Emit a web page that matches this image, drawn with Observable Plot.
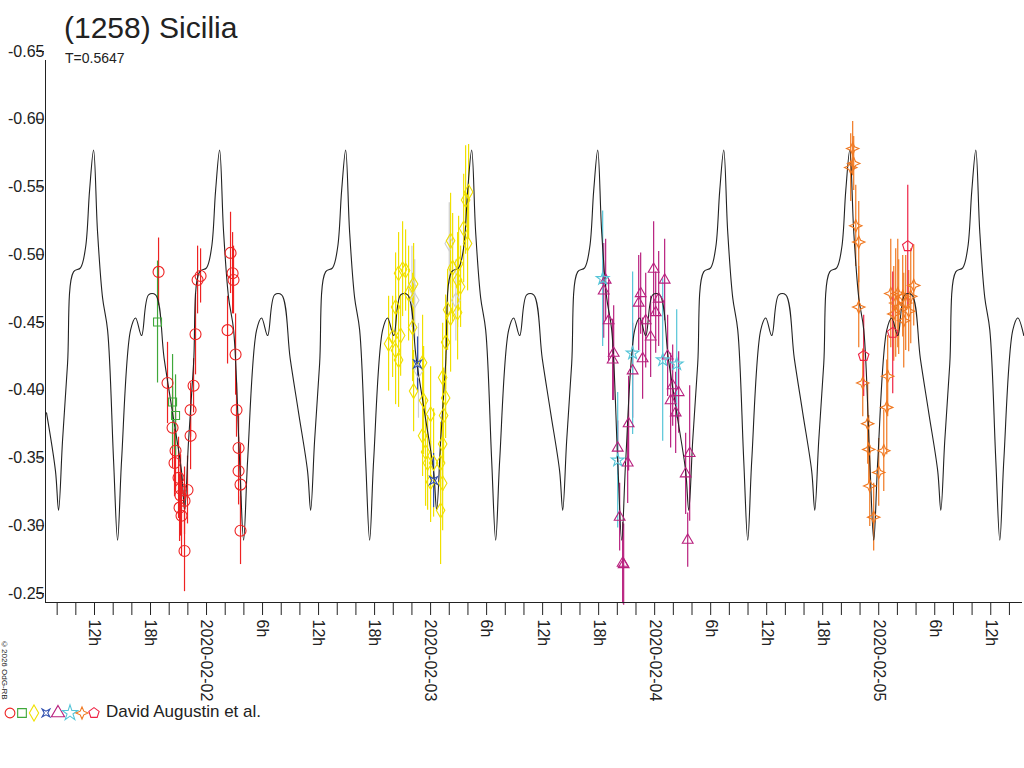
<!DOCTYPE html>
<html>
<head>
<meta charset="utf-8">
<script src="https://cdn.jsdelivr.net/npm/d3@7"></script>
<script src="https://cdn.jsdelivr.net/npm/@observablehq/plot@0.6"></script>
<style>
  body { margin: 0; background: #fff; font-family: "Liberation Sans", Arial, sans-serif; }
  #wrap { position: relative; width: 1024px; height: 768px; overflow: hidden; }
  #title { position: absolute; left: 64px; top: 11px; font-size: 30px; color: #222; }
  #sub { position: absolute; left: 65px; top: 50px; font-size: 14px; color: #222; }
  #copy { position: absolute; left: 0px; top: 640px; font-size: 8px; color: #222;
          writing-mode: vertical-rl; }
  #legend { position: absolute; left: 3px; top: 702px; display: flex; align-items: center; font-size: 17px; color: #222; }
</style>
</head>
<body>
<div id="wrap">
  <div id="chart"></div>
  <div id="title">(1258) Sicilia</div>
  <div id="sub">T=0.5647</div>
  <div id="copy">©2026 OdG-RB</div>
  <div id="legend"></div>
</div>
<script>
// hours since 2020-02-01 00:00 UT, reduced magnitude (brighter up)
// one cycle of the model lightcurve (hours into cycle, mag)
const modelStart = 6.86;
const modelPeriod = 13.5;
const modelPhase = [0, 0.96, 1.29, 1.71, 2.25, 2.89, 3.64, 4.18, 4.61, 5.04, 5.46, 6.0, 6.54, 7.18, 7.61, 8.04, 9.0, 9.54, 10.18, 10.93, 11.68, 12.6];
const modelMag   = [-0.39, -0.347, -0.318, -0.369, -0.426, -0.494, -0.497, -0.512, -0.554, -0.584, -0.524, -0.475, -0.451, -0.355, -0.296, -0.355, -0.451, -0.460, -0.447, -0.477, -0.477, -0.43];

const redT = [18.86, 19.82, 20.36, 20.68, 20.57, 21.0, 21.21, 21.21, 21.11, 21.32, 21.64, 21.64, 21.96, 22.29, 22.29, 22.61, 22.82, 23.04, 23.36, 26.25, 26.57, 26.79, 26.89, 27.11, 27.21, 27.43, 27.43, 27.64, 27.64];
const redM = [-0.494, -0.412, -0.379, -0.362, -0.353, -0.342, -0.334, -0.329, -0.320, -0.314, -0.288, -0.325, -0.333, -0.392, -0.373, -0.410, -0.448, -0.488, -0.491, -0.451, -0.508, -0.493, -0.488, -0.433, -0.392, -0.364, -0.347, -0.337, -0.303];
const redE = [0.025, 0.03, 0.03, 0.03, 0.025, 0.03, 0.025, 0.03, 0.025, 0.03, 0.03, 0.025, 0.025, 0.02, 0.025, 0.02, 0.03, 0.025, 0.02, 0.025, 0.03, 0.03, 0.025, 0.03, 0.02, 0.025, 0.025, 0.03, 0.025];

const greenT = [18.75, 20.36, 20.68];
const greenM = [-0.457, -0.398, -0.388];
const greenE = [0.045, 0.035, 0.03];

const yellowT = [43.5, 43.93, 44.25, 44.57, 44.57, 45.0, 45.32, 44.25, 44.79, 45.64, 46.18, 46.07, 47.14, 46.18, 47.25, 48.0, 47.14, 47.46, 47.68, 48.0, 48.32, 49.29, 49.07, 49.39, 49.61, 49.29, 49.61, 49.82, 50.14, 50.89, 50.14, 50.36, 51.0, 51.21, 50.89, 51.54, 51.96, 51.75, 52.07, 49.07, 49.29];
const yellowM = [-0.441, -0.446, -0.436, -0.429, -0.493, -0.496, -0.495, -0.468, -0.447, -0.478, -0.485, -0.453, -0.427, -0.406, -0.399, -0.389, -0.373, -0.361, -0.353, -0.339, -0.353, -0.367, -0.353, -0.388, -0.401, -0.416, -0.442, -0.466, -0.460, -0.464, -0.517, -0.497, -0.500, -0.483, -0.488, -0.526, -0.515, -0.547, -0.553, -0.318, -0.338];
const yellowE = [0.035, 0.03, 0.04, 0.035, 0.03, 0.035, 0.03, 0.04, 0.03, 0.035, 0.03, 0.04, 0.035, 0.03, 0.04, 0.035, 0.03, 0.04, 0.035, 0.03, 0.04, 0.035, 0.03, 0.035, 0.03, 0.04, 0.035, 0.03, 0.04, 0.035, 0.035, 0.04, 0.035, 0.03, 0.035, 0.04, 0.035, 0.04, 0.035, 0.04, 0.035];

const greyT = [46.0, 50.0, 46.7, 46.3, 50.7];
const greyM = [-0.483, -0.515, -0.421, -0.473, -0.473];
const greyE = [0.03, 0.03, 0.035, 0.03, 0.03];

const blueT = [46.6, 48.32];
const blueM = [-0.426, -0.340];
const blueE = [0.02, 0.02];

const purpleT = [66.75, 66.54, 67.07, 67.61, 67.5, 68.04, 69.11, 69.21, 68.25, 68.57, 68.68, 69.64, 70.29, 70.5, 70.71, 71.04, 71.57, 71.89, 72.11, 72.43, 73.07, 73.39, 73.93, 73.71, 74.57, 74.25, 75.75, 75.32, 75.54];
const purpleM = [-0.488, -0.480, -0.458, -0.434, -0.429, -0.364, -0.353, -0.382, -0.313, -0.279, -0.278, -0.421, -0.471, -0.478, -0.430, -0.458, -0.446, -0.496, -0.464, -0.474, -0.488, -0.432, -0.410, -0.399, -0.405, -0.390, -0.360, -0.345, -0.296];
const purpleE = [0.03, 0.035, 0.03, 0.035, 0.03, 0.02, 0.03, 0.035, 0.025, 0.03, 0.03, 0.035, 0.035, 0.03, 0.03, 0.035, 0.03, 0.035, 0.03, 0.035, 0.03, 0.03, 0.03, 0.035, 0.03, 0.03, 0.05, 0.03, 0.02];

const cyanT = [66.43, 69.64, 68.04, 72.86, 74.36];
const cyanM = [-0.489, -0.434, -0.355, -0.429, -0.426];
const cyanE = [0.05, 0.06, 0.05, 0.06, 0.04];

const orangeT = [93.21, 93.0, 93.32, 93.54, 93.86, 93.86, 94.29, 94.82, 94.93, 95.04, 95.46, 96.0, 96.54, 96.86, 96.96, 97.29, 97.61, 98.04, 98.14, 98.57, 98.68, 99.21, 99.43, 99.75, 98.89, 97.82];
const orangeM = [-0.585, -0.571, -0.574, -0.528, -0.516, -0.468, -0.412, -0.382, -0.363, -0.336, -0.313, -0.346, -0.362, -0.394, -0.417, -0.478, -0.463, -0.478, -0.468, -0.476, -0.458, -0.465, -0.476, -0.484, -0.471, -0.471];
const orangeE = [0.02, 0.025, 0.02, 0.03, 0.03, 0.03, 0.025, 0.03, 0.025, 0.03, 0.025, 0.025, 0.03, 0.035, 0.03, 0.04, 0.035, 0.04, 0.035, 0.03, 0.035, 0.03, 0.035, 0.03, 0.035, 0.04];

const pentT = [94.39, 97.5, 99.11];
const pentM = [-0.432, -0.449, -0.513];
const pentE = [0.03, 0.045, 0.045];

const yTicks = [-0.65, -0.60, -0.55, -0.50, -0.45, -0.40, -0.35, -0.30, -0.25];
const dateLabels = {24: "2020-02-02", 48: "2020-02-03", 72: "2020-02-04", 96: "2020-02-05"};

// custom symbols
const pentagon = {draw(ctx, size) {
  const r = Math.sqrt(size) * 0.62;
  for (let i = 0; i < 5; i++) {
    const a = -Math.PI / 2 + i * 2 * Math.PI / 5;
    i ? ctx.lineTo(r * Math.cos(a), r * Math.sin(a)) : ctx.moveTo(r * Math.cos(a), r * Math.sin(a));
  }
  ctx.closePath();
}};
const star4 = {draw(ctx, size) {
  const r = Math.sqrt(size) * 0.7, q = r * 0.3;
  ctx.moveTo(0, -r); ctx.lineTo(q, -q); ctx.lineTo(r, 0); ctx.lineTo(q, q);
  ctx.lineTo(0, r); ctx.lineTo(-q, q); ctx.lineTo(-r, 0); ctx.lineTo(-q, -q); ctx.closePath();
}};
const xsquare = {draw(ctx, size) {
  const r = Math.sqrt(size) * 0.45, q = r * 0.45;
  ctx.moveTo(-r, -r); ctx.lineTo(0, -q); ctx.lineTo(r, -r); ctx.lineTo(q, 0);
  ctx.lineTo(r, r); ctx.lineTo(0, q); ctx.lineTo(-r, r); ctx.lineTo(-q, 0); ctx.closePath();
}};

const series = [
  {t: greyT, m: greyM, e: greyE, color: "#cfcfcf", symbol: "diamond", r: 4.5, legend: false},
  {t: redT, m: redM, e: redE, color: "#ee2222", symbol: "circle", r: 5.5, legend: true},
  {t: greenT, m: greenM, e: greenE, color: "#3fa83a", symbol: "square", r: 4.5, legend: true},
  {t: yellowT, m: yellowM, e: yellowE, color: "#f0e000", symbol: "diamond", r: 4.5, legend: true},
  {t: blueT, m: blueM, e: blueE, color: "#3050b0", symbol: xsquare, r: 5, legend: true},
  {t: purpleT, m: purpleM, e: purpleE, color: "#b8207e", symbol: "triangle", r: 4, legend: true},
  {t: cyanT, m: cyanM, e: cyanE, color: "#55c5d8", symbol: "star", r: 4, legend: true},
  {t: orangeT, m: orangeM, e: orangeE, color: "#f07820", symbol: star4, r: 5, legend: true},
  {t: pentT, m: pentM, e: pentE, color: "#ee2244", symbol: pentagon, r: 5, legend: true}
];

// model curve: tile the read cycle across the plotted range
const model = [];
for (let k = -1; k < 9; k++) {
  modelPhase.forEach((p, i) => {
    const t = modelStart + k * modelPeriod + p;
    if (t >= 6.0 && t <= 112) model.push({t, m: modelMag[i]});
  });
}

const marks = [];
for (const s of series) {
  const rows = s.t.map((t, i) => ({t, m: s.m[i], e: s.e[i]}));
  marks.push(Plot.ruleX(rows, {x: "t", y1: d => d.m - d.e, y2: d => d.m + d.e, stroke: s.color, strokeWidth: 1.2}));
}
marks.push(Plot.line(model, {x: "t", y: "m", curve: "catmull-rom", stroke: "#222", strokeWidth: 1.1}));
for (const s of series) {
  const rows = s.t.map((t, i) => ({t, m: s.m[i]}));
  marks.push(Plot.dot(rows, {x: "t", y: "m", symbol: s.symbol, stroke: s.color, r: s.r, strokeWidth: 1.1}));
}

const xTicks = d3.range(8, 112, 2);
marks.push(Plot.axisX({ticks: xTicks, tickSize: 13, tickRotate: 90, tickPadding: 4,
  tickFormat: h => h % 6 ? "" : (dateLabels[h] || (h % 24) + "h"),
  fontSize: 16, label: null}));
marks.push(Plot.axisY({ticks: yTicks, tickSize: 8, tickPadding: -8, dy: -9, dx: -1,
  tickFormat: v => v.toFixed(2), fontSize: 16, label: null}));
marks.push(Plot.ruleX([6.75], {stroke: "#222"}));
marks.push(Plot.ruleY([-0.25], {stroke: "#222"}));

const plot = Plot.plot({
  width: 1024, height: 768,
  marginLeft: 45, marginRight: 2, marginTop: 60, marginBottom: 166,
  x: {domain: [6.75, 111.4]},
  y: {domain: [-0.25, -0.65]},
  style: {fontFamily: "Liberation Sans, Arial, sans-serif", color: "#222", background: "#fff"},
  marks
});
document.getElementById("chart").appendChild(plot);

// legend
const leg = document.getElementById("legend");
const ns = "http://www.w3.org/2000/svg";
const svg = document.createElementNS(ns, "svg");
const shown = series.filter(s => s.legend);
const named = {circle: d3.symbolCircle, square: d3.symbolSquare, diamond: d3.symbolDiamond, triangle: d3.symbolTriangle, star: d3.symbolStar};
svg.setAttribute("width", shown.length * 12 + 4);
svg.setAttribute("height", 20);
shown.forEach((s, i) => {
  const p = document.createElementNS(ns, "path");
  p.setAttribute("d", d3.symbol(typeof s.symbol === "string" ? named[s.symbol] : s.symbol, 75)());
  p.setAttribute("transform", `translate(${7 + i * 12},11)`);
  p.setAttribute("fill", "none");
  p.setAttribute("stroke", s.color);
  p.setAttribute("stroke-width", 1.1);
  svg.appendChild(p);
});
leg.appendChild(svg);
const lab = document.createElement("span");
lab.textContent = " David Augustin et al.";
lab.style.marginLeft = "3px";
leg.appendChild(lab);
</script>
</body>
</html>
